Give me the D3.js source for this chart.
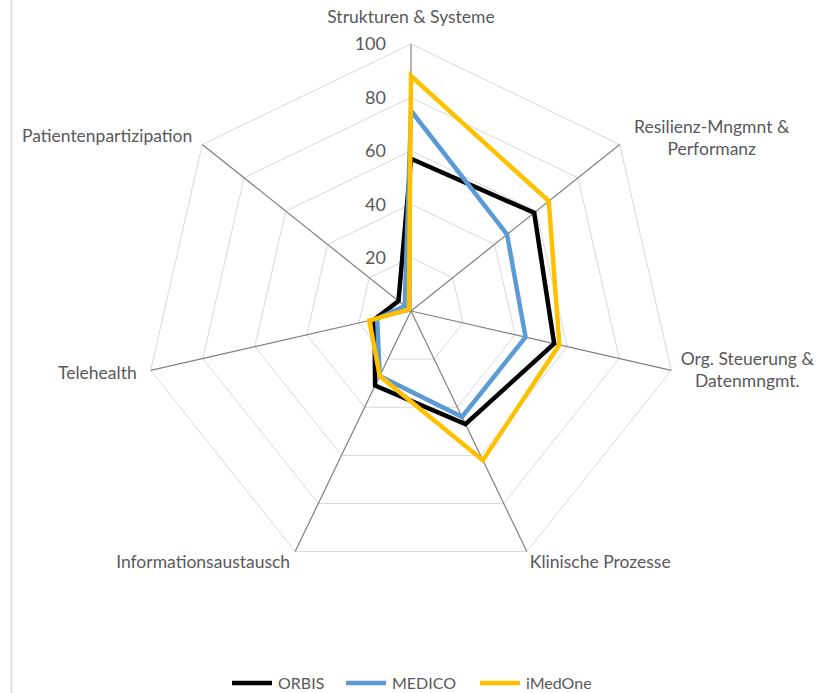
<!DOCTYPE html>
<html><head><meta charset="utf-8">
<script src="https://cdn.jsdelivr.net/npm/d3@7"></script>
<style>body{margin:0;background:#fff}svg{display:block}text{font-family:Lato,"Open Sans",sans-serif;fill:#595959}</style>
</head><body><svg id="c" width="816" height="693"></svg>
<script>
const categories = [["Strukturen & Systeme"],["Resilienz-Mngmnt &","Performanz"],["Org. Steuerung &","Datenmngmt."],["Klinische Prozesse"],["Informationsaustausch"],["Telehealth"],["Patientenpartizipation"]];
const seriesNames = ["ORBIS","MEDICO","iMedOne"];
const orbis   = [57, 59, 55, 47, 31, 14, 6];
const medico  = [75, 46, 44, 44, 27, 13, 3];
const imedone = [88, 66, 57, 62, 27, 16, 1];
const tickValues = [0, 20, 40, 60, 80, 100];
const colors = ["#000000","#5B9BD5","#FFC000"];
const seriesData = [orbis, medico, imedone];

const svg = d3.select("#c");
const cx = 411, cy = 311, R = 267;
const n = categories.length;
const r = d3.scaleLinear().domain([0,100]).range([0,R]);
const ang = d3.scaleLinear().domain([0,n]).range([0,2*Math.PI]);
const pt = (i,v)=>[cx + r(v)*Math.sin(ang(i)), cy - r(v)*Math.cos(ang(i))];

// left border
svg.append("line").attr("x1",11.5).attr("x2",11.5).attr("y1",0).attr("y2",693).attr("stroke","#d9d9d9").attr("stroke-width",1.5);

// gridlines
tickValues.filter(t=>t>0).forEach(t=>{
  const pts = d3.range(n).map(i=>pt(i,t));
  svg.append("polygon").attr("points",pts.map(p=>p.join(",")).join(" "))
    .attr("fill","none").attr("stroke","#d9d9d9").attr("stroke-width",1);
});
// tick labels (the 0 label is hidden behind the series in the original)
svg.selectAll(".tick").data(tickValues.filter(t=>t>0)).enter().append("text")
  .attr("x",cx-25).attr("y",d=>cy-r(d)).attr("dy","0.35em")
  .attr("text-anchor","end").style("font-size","18px").text(d=>d);
// spokes
d3.range(n).forEach(i=>{
  const p = pt(i,100);
  svg.append("line").attr("x1",cx).attr("y1",cy).attr("x2",p[0]).attr("y2",p[1])
    .attr("stroke","#808080").attr("stroke-width",1.2);
});
// category labels
const labelPos = [
  {dx:0, dy:-27, anchor:"middle"},
  {dx:92, dy:-18, anchor:"middle"},
  {dx:76, dy:-12, anchor:"middle"},
  {dx:3, dy:10, anchor:"start"},
  {dx:-5, dy:10, anchor:"end"},
  {dx:-14, dy:2, anchor:"end"},
  {dx:-10, dy:-9, anchor:"end"}
];
categories.forEach((lines,i)=>{
  const p = pt(i,100);
  const lp = labelPos[i];
  const t = svg.append("text").attr("text-anchor",lp.anchor).style("font-size","17.5px");
  lines.forEach((l,k)=>{
    t.append("tspan").attr("x",p[0]+lp.dx).attr("y",p[1]+lp.dy+k*22).attr("dy","0.35em").text(l);
  });
});
// series
const line = d3.line().curve(d3.curveLinearClosed);
seriesData.forEach((vals,s)=>{
  svg.append("path").attr("d",line(vals.map((v,i)=>pt(i,v))))
    .attr("fill","none").attr("stroke",colors[s]).attr("stroke-width",4.5).attr("stroke-linejoin","miter");
});
// legend
const legX = [232, 346, 480];
seriesNames.forEach((name,s)=>{
  const g = svg.append("g").attr("transform",`translate(${legX[s]},683)`);
  g.append("line").attr("x1",0).attr("x2",40).attr("y1",0).attr("y2",0).attr("stroke",colors[s]).attr("stroke-width",4.5);
  g.append("text").attr("x",46).attr("y",0).attr("dy","0.35em").style("font-size","16px").text(name);
});
</script></body></html>
